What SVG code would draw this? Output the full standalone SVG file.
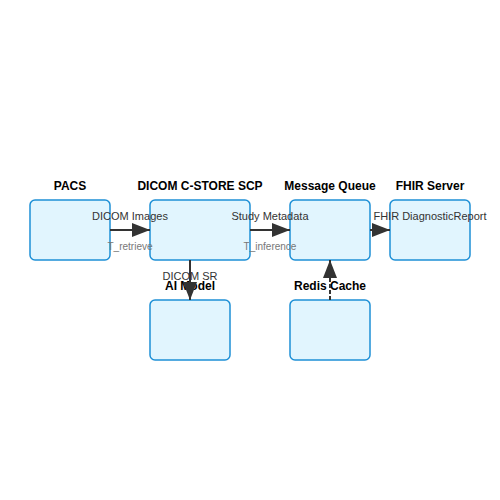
<svg xmlns="http://www.w3.org/2000/svg" width="500" height="500" viewBox="0 0 500 500">
<style>
.box{fill:#e1f5fe;stroke:#1e90d6;stroke-width:1.5}
.title{font-family:"Liberation Sans",Arial,sans-serif;font-size:12px;font-weight:bold;fill:#000;text-anchor:middle}
.lbl{font-family:"Liberation Sans",Arial,sans-serif;font-size:11px;fill:#333;text-anchor:middle}
.sub{font-family:"Liberation Sans",Arial,sans-serif;font-size:10px;fill:#777;text-anchor:middle}
.edge{stroke:#333;stroke-width:2;fill:none}
.dash{stroke-dasharray:4,2}
</style>
<defs>
<marker id="arr" viewBox="0 0 18 14" refX="18" refY="7" markerWidth="18" markerHeight="14" markerUnits="userSpaceOnUse" orient="auto">
<path d="M0,0 L18,7 L0,14 Z" fill="#333"/>
</marker>
</defs>
<rect width="500" height="500" fill="#fff"/>
<g id="pacs"><rect class="box" x="30" y="200" width="80" height="60" rx="5"/><text class="title" x="70" y="190">PACS</text></g>
<g id="dicom"><rect class="box" x="150" y="200" width="100" height="60" rx="5"/><text class="title" x="200" y="190">DICOM C-STORE SCP</text></g>
<g id="mq"><rect class="box" x="290" y="200" width="80" height="60" rx="5"/><text class="title" x="330" y="190">Message Queue</text></g>
<g id="fhir"><rect class="box" x="390" y="200" width="80" height="60" rx="5"/><text class="title" x="430" y="190">FHIR Server</text></g>
<g id="ai"><rect class="box" x="150" y="300" width="80" height="60" rx="5"/><text class="title" x="190" y="290">AI Model</text></g>
<g id="redis"><rect class="box" x="290" y="300" width="80" height="60" rx="5"/><text class="title" x="330" y="290">Redis Cache</text></g>
<g id="connectors">
<line class="edge" x1="110" y1="230" x2="150" y2="230" marker-end="url(#arr)"/>
<text class="lbl" x="130" y="220">DICOM Images</text>
<text class="sub" x="130" y="250">T_retrieve</text>
<line class="edge" x1="250" y1="230" x2="290" y2="230" marker-end="url(#arr)"/>
<text class="lbl" x="270" y="220">Study Metadata</text>
<text class="sub" x="270" y="250">T_inference</text>
<line class="edge" x1="370" y1="230" x2="390" y2="230" marker-end="url(#arr)"/>
<text class="lbl" x="430" y="220">FHIR DiagnosticReport</text>
<line class="edge" x1="190" y1="260" x2="190" y2="300" marker-end="url(#arr)"/>
<text class="lbl" x="190" y="280">DICOM SR</text>
<line class="edge dash" x1="330" y1="300" x2="330" y2="260" marker-end="url(#arr)"/>
</g>
</svg>
